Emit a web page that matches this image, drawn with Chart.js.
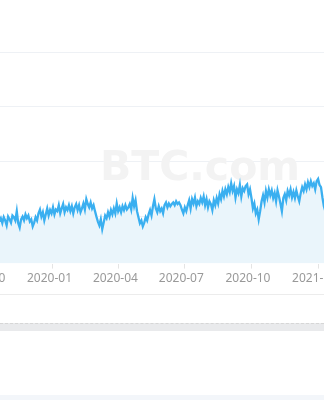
<!DOCTYPE html>
<html>
<head>
<meta charset="utf-8">
<script src="https://cdn.jsdelivr.net/npm/chart.js@4/dist/chart.umd.min.js"></script>
<style>
  html, body { margin: 0; padding: 0; background: #fff; }
  body { width: 324px; height: 400px; position: relative; overflow: hidden; }
  #wrap { position: absolute; left: -60px; top: 0; width: 444px; height: 289px; }
  #rule { position: absolute; left: 0; top: 294px; width: 324px; height: 1px; background: #ececec; }
  #slider { position: absolute; left: 0; top: 323px; width: 324px; height: 7px; background: #e9eaec; border-top: 1px dashed #d6d6d6; }
  #foot { position: absolute; left: 0; top: 395px; width: 324px; height: 5px; background: #f3f6fa; }
</style>
</head>
<body>
<div id="wrap"><canvas id="myChart" width="444" height="289"></canvas></div>
<div id="rule"></div>
<div id="slider"></div>
<div id="foot"></div>
<script>
// hashrate, one value every 2 days, first one on startDate
var startDate = "2019-10-19";
var stepDays = 2;
var hashrate = [
  90,96,87,98,92,83,99,94,88,101,
  98,92,109,87,79,94,99,92,103,96,
  101,90,94,81,88,98,92,105,112,99,
  107,92,103,114,101,111,105,116,103,112,
  109,120,105,114,122,107,116,111,120,109,
  118,105,116,122,111,120,107,114,123,112,
  131,122,116,125,114,120,109,99,90,83,
  94,76,88,101,96,107,99,111,103,114,
  105,123,109,116,107,118,111,120,112,116,
  122,112,133,118,129,109,98,87,92,81,
  88,98,92,103,111,101,118,131,114,107,
  118,109,114,105,120,125,116,123,118,122,
  125,120,127,122,125,120,112,105,116,109,
  120,129,114,131,123,134,118,127,122,133,
  125,136,120,131,116,127,122,111,129,120,
  133,123,140,131,146,136,149,140,153,144,
  160,146,155,134,149,142,157,136,151,146,
  155,158,140,149,133,114,123,105,112,94,
  109,127,138,125,146,134,149,138,147,133,
  142,127,147,136,123,109,133,140,129,146,
  138,149,134,144,133,147,136,127,142,153,
  146,158,149,162,153,164,155,160,149,164,
  168,157,153,134,118,109
];
// x axis ticks
var tickDates = ["2019-10-01","2020-01-01","2020-04-01","2020-07-01","2020-10-01","2021-01-01"];
var tickLabels = ["2019-10","2020-01","2020-04","2020-07","2020-10","2021-01"];
// y grid lines
var yGrid = [100, 200, 300, 400];

var origin = Date.parse("2019-10-01");
function dayNum(s) { return (Date.parse(s) - origin) / 864e5; }

var startDay = dayNum(startDate);
var points = hashrate.map(function (v, i) {
  return { x: startDay + i * stepDays, y: v };
});

// faint "BTC.com" watermark behind the line
var watermark = {
  id: 'watermark',
  beforeDatasetsDraw: function (chart) {
    var ctx = chart.ctx;
    ctx.save();
    ctx.font = 'bold 41px "DejaVu Sans"';
    ctx.fillStyle = '#f3f3f3';
    ctx.textAlign = 'center';
    ctx.textBaseline = 'alphabetic';
    ctx.fillText('BTC.com', 260, 180);
    ctx.restore();
  }
};

Chart.defaults.font.family = '"Noto Sans", sans-serif';

var ctx = document.getElementById("myChart");
var myChart = new Chart(ctx, {
  type: 'line',
  data: {
    datasets: [{
      data: points,
      borderColor: '#3aaff0',
      backgroundColor: '#eaf5fb',
      borderWidth: 2.3,
      pointRadius: 0,
      tension: 0,
      fill: 'start'
    }]
  },
  options: {
    responsive: false,
    devicePixelRatio: 1,
    animation: false,
    layout: { padding: 0 },
    plugins: { legend: { display: false }, tooltip: { enabled: false } },
    scales: {
      x: {
        type: 'linear',
        min: dayNum("2019-07-29"),
        max: dayNum("2021-04-02"),
        afterBuildTicks: function (scale) {
          scale.ticks = tickDates.map(function (d) { return { value: dayNum(d) }; });
        },
        grid: { drawOnChartArea: false, drawTicks: true, tickLength: 5, color: '#e4e4e4' },
        border: { display: false },
        ticks: {
          autoSkip: false,
          maxRotation: 0,
          padding: 3,
          labelOffset: -3.5,
          color: '#999',
          font: { size: 12 },
          callback: function (val, i) { return tickLabels[i]; }
        }
      },
      y: {
        min: 13,
        max: 495.5,
        afterBuildTicks: function (scale) {
          scale.ticks = yGrid.map(function (v) { return { value: v }; });
        },
        grid: { color: '#eef1f5', drawTicks: false },
        border: { display: false },
        ticks: { display: false }
      }
    }
  },
  plugins: [watermark]
});
</script>
</body>
</html>
